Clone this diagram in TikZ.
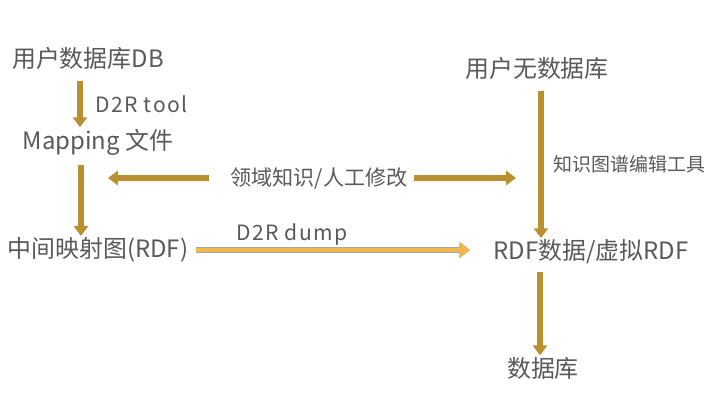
\documentclass[tikz,border=0pt]{standalone}
\usepackage{fontspec}
\setmainfont{Noto Sans CJK SC}
\usetikzlibrary{arrows.meta}
\definecolor{txtgray}{HTML}{595959}
\definecolor{gold}{HTML}{B8902F}
\definecolor{goldlight}{HTML}{F0B84A}
\begin{document}
\begin{tikzpicture}[x=0.025cm, y=-0.025cm, >=Triangle,
    lbl/.style={text=txtgray, font=\fontsize{17}{20}\selectfont, inner sep=1pt},
    note/.style={text=txtgray, font=\fontsize{13.5}{16}\selectfont, inner sep=1pt},
    latin/.style={text=txtgray, font=\fontsize{15}{17}\selectfont\addfontfeature{LetterSpace=7}, inner sep=1pt},
    flow/.style={draw=gold, line width=3.6pt, -{Triangle[length=7pt, width=10pt]}},
    dump/.style={draw=goldlight, line width=3pt, -{Triangle[length=7pt, width=10pt]},
      preaction={draw=gray!70, line width=4.2pt, -{Triangle[length=7.6pt, width=11.4pt]}}}]
    \useasboundingbox (0,0) rectangle (720,406);
    % nodes
    \node[lbl] (db) at (88,58) {用户数据库DB};
    \node[lbl] (map) at (98,142) {Mapping 文件};
    \node[lbl] (mid) at (98,250) {中间映射图(RDF)};
    \node[lbl] (nodb) at (537,68) {用户无数据库};
    \node[lbl] (rdf) at (591,252) {RDF数据/虚拟RDF};
    \node[lbl] (store) at (543,368) {数据库};
    \node[note, font=\fontsize{15}{18}\selectfont] (know) at (319,179) {领域知识/人工修改};
    \coordinate (kl) at (108,178);
    \coordinate (kr) at (516,178);
    % connectors
    \draw[flow] (db.south -| 80,0) ++(0,10) -- node[latin, right=8pt] (tool) {D2R tool} (map.north -| 80,0);
    \draw[flow] (map.south -| 81,0) ++(0,8) -- (mid.north -| 81,0);
    \draw[flow] (know.west |- kl) ++(-20,0) -- (kl);
    \draw[flow] (know.east |- kr) ++(5,0) -- (kr);
    \draw[flow] (nodb.south -| 541,0) ++(0,10) -- node[note, right=6pt] (edit) {知识图谱编辑工具} (rdf.north -| 541,0);
    \draw[dump] (mid.east) ++(6,0) -- node[latin, above=1pt, pos=0.35] (d2r) {D2R dump} (mid.east -| 470,0);
    \draw[flow] (rdf.south -| 540,0) ++(0,6) -- (store.north -| 540,0);
\end{tikzpicture}
\end{document}
